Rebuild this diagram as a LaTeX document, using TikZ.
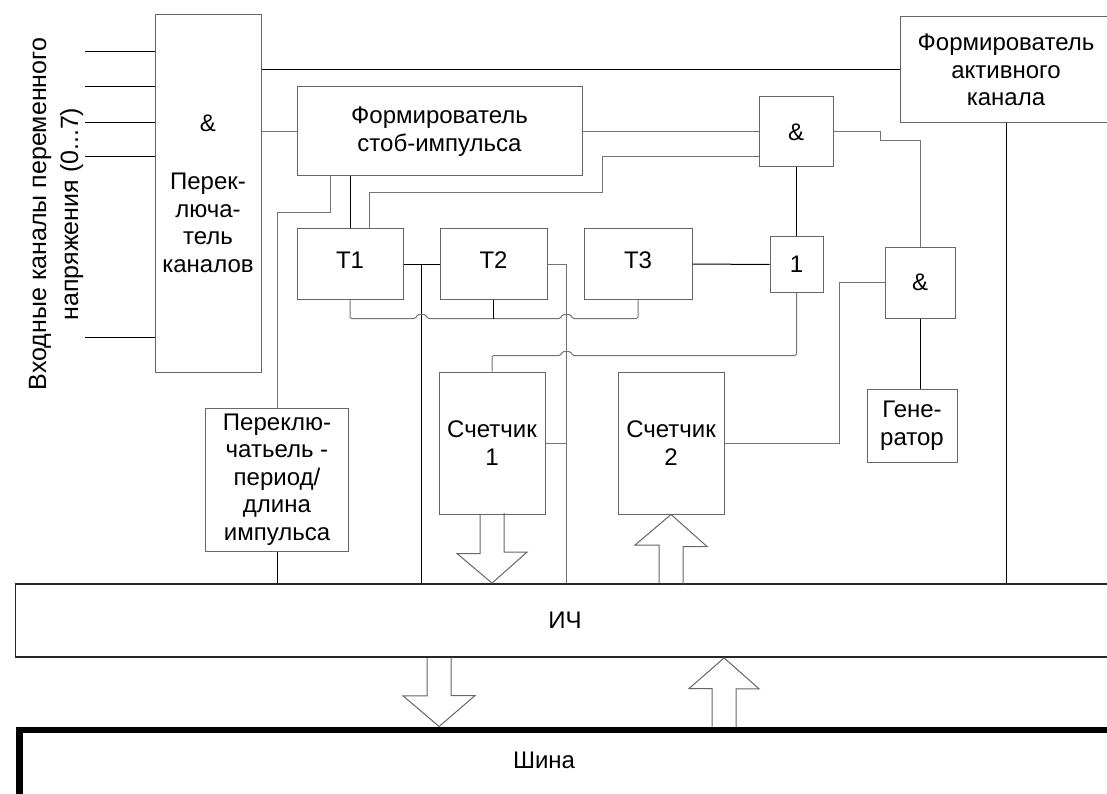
\documentclass[tikz,border=0pt]{standalone}
\usepackage{fontspec}
\setmainfont{Liberation Sans}
\usetikzlibrary{positioning, calc}

\begin{document}
\begin{tikzpicture}[
  x = 1pt, y = -1pt,
  node distance = 36pt,
  block/.style  = {draw=black!60, line width=1pt, rectangle,
                   inner sep=0pt, align=center,
                   font=\fontsize{24}{27.5}\selectfont},
  gate/.style   = {block, minimum width=72pt, minimum height=70pt},
  trig/.style   = {block, minimum width=107pt, minimum height=70pt,
                   text height=17pt, text depth=8pt},
  cnt/.style    = {block, minimum width=106pt, minimum height=142pt},
  wire/.style   = {line width=1pt, draw=black},
  wireg/.style  = {line width=1pt, draw=black!55},
  hollow/.style = {line width=1pt, draw=black!60},
  lbl/.style    = {font=\fontsize{25}{32}\selectfont, align=center}
]
\useasboundingbox (0,0) rectangle (1107,794);
\clip (0,0) rectangle (1107,794);

%-- Входы и переключатель каналов ------------------------------------------
\node[lbl, rotate=90] (inlbl) at (56,214)
  {Входные каналы переменного\\напряжения (0...7)};

\node[block, minimum width=106pt, minimum height=357pt] (sw) at (208,193.5)
  {\&\\[31pt]Перек-\\люча-\\тель\\каналов};

%-- Формирователи ----------------------------------------------------------
\node[block, minimum width=285pt, minimum height=89pt] (strob) at (439.5,131.5)
  {Формирователь\\стоб-импульса};

\node[block, minimum width=212pt, minimum height=106pt] (act) at (1006,70)
  {Формирователь\\активного\\канала};

%-- Триггеры и логика ------------------------------------------------------
\node[gate, minimum width=74pt] (and1) at (796,132) {\&};

\node[trig, minimum width=106pt] (t1) at (350,264) {Т1};
\node[trig, right=of t1] (t2) {Т2};
\node[trig, minimum width=108pt, right=of t2] (t3) {Т3};

\node[block, minimum width=53pt, minimum height=55pt] (one) at (796.5,264.5) {1};
\node[gate, minimum width=70pt, minimum height=71pt] (and2) at (920,282.5) {\&};
\node[block, minimum width=90pt, minimum height=73pt] (gen) at (912,425.5)
  {Гене-\\ратор};

%-- Счетчики ---------------------------------------------------------------
\node[cnt] (cnt1) at (492,443) {Счетчик\\1};
\node[cnt] (cnt2) at (671,443) {Счетчик\\2};

\node[block, minimum width=143pt, minimum height=143pt] (per) at (277,479.5)
  {Переклю-\\чатьель -\\период/\\длина\\импульса};

%-- ИЧ и шина --------------------------------------------------------------
\node[block, draw=black!85, line width=1.8pt,
      minimum width=1099pt, minimum height=73pt] (ich) at (565,620.5) {ИЧ};

\node[block, draw=black, line width=6.5pt, minimum width=1200pt,
      minimum height=120pt, anchor=north west] (bus) at (16,726.5) {};
\node[block, draw=none] (buslbl) at (544,760) {Шина};

%-- Связи ------------------------------------------------------------------
\foreach \y [count=\i] in {52,87,123,157,337} {
  \coordinate (in\i) at (85,\y);
  \draw[wire] (in\i) -- (in\i -| sw.west);
}

\draw[wire]  (sw.east |- act.west) -- (act.west);
\draw[wireg] (sw.east |- strob.west) -- (strob.west);
\draw[wireg] (strob.east) -- (strob.east -| and1.west);

\draw[wireg] ($(and1.west)+(0,25)$) -| (602,193) -| ($(t1.north)+(19,0)$);
\draw[wire]  (strob.south -| t1.north) -- (t1.north);
\draw[wireg] ($(strob.south west)+(34,0)$) |- ($(per.north)+(0,-195)$)
  -- (per.north);
\draw[wire]  (per.south) -- (per.south |- ich.north);

\coordinate (j1) at ($(t1.east)!.5!(t2.west)$);
\coordinate (j2) at ($(t2.east)+(19,0)$);
\draw[wire]  (t1.east) -- (t2.west);
\draw[wire]  (j1) -- (j1 |- ich.north);
\draw[wireg] (t2.east) -- (j2) -- (j2 |- ich.north);
\draw[wireg] (cnt1.east) -- (cnt1.east -| j2);

% общая линия триггеров
\coordinate (tb) at ($(t1.south)+(0,19)$);
\draw[wireg, rounded corners=1.5pt] (t1.south) -- (tb)
  -- ($(tb -| j1)+(-6,0)$) -- ++(2,-4) -- ++(8,0) -- ++(2,4)
  -- ($(tb -| j2)+(-6,0)$) -- ++(2,-4) -- ++(8,0) -- ++(2,4)
  -- (tb -| t3.south) -- (t3.south);
\draw[wire] (t2.south) -- (t2.south |- tb);

\draw[wire] (t3.east) -- (one.west);
\draw[wire] (and1.south) -- (and1.south |- one.north);

\coordinate (cb) at ($(one.south)+(0,63)$);
\draw[wireg, rounded corners=1.5pt] (one.south) -- (cb)
  -- ($(cb -| j2)+(6,0)$) -- ++(-2,-4) -- ++(-8,0) -- ++(-2,4)
  -- (cb -| cnt1.north) -- (cnt1.north);

\draw[wireg] (and1.east) -- ++(47,0) -- ++(0,9) -| (and2.north);
\draw[wire]  (and2.south) -- (and2.south |- gen.north);
\draw[wireg] (cnt2.east) -- ++(115,0) |- (and2.west);
\draw[wire]  (act.south) -- (act.south |- ich.north);

%-- Широкие стрелки --------------------------------------------------------
\draw[hollow] ($(cnt1.south)+(-12,0)$) -- ++(0,39) -- ++(-23,0)
  -- (cnt1.south |- ich.north) -- ++(35,-31) -- ++(-23,0) -- ++(0,-39);
\draw[hollow] ($(cnt2.south |- ich.north)+(-12,0)$) -- ++(0,-38) -- ++(-24,0)
  -- (cnt2.south) -- ++(36,32) -- ++(-24,0) -- ++(0,38);

\coordinate (dn) at ($(ich.south west)+(424.5,0)$);
\coordinate (up) at ($(ich.south west)+(709.5,0)$);
\draw[hollow] ($(dn)+(-12,0)$) -- ++(0,38) -- ++(-24,0)
  -- (dn |- bus.north) -- ++(36,-31) -- ++(-24,0) -- ++(0,-38);
\draw[hollow] ($(up |- bus.north)+(-12,0)$) -- ++(0,-38) -- ++(-23,0)
  -- (up) -- ++(35,31) -- ++(-23,0) -- ++(0,38);

\end{tikzpicture}
\end{document}
